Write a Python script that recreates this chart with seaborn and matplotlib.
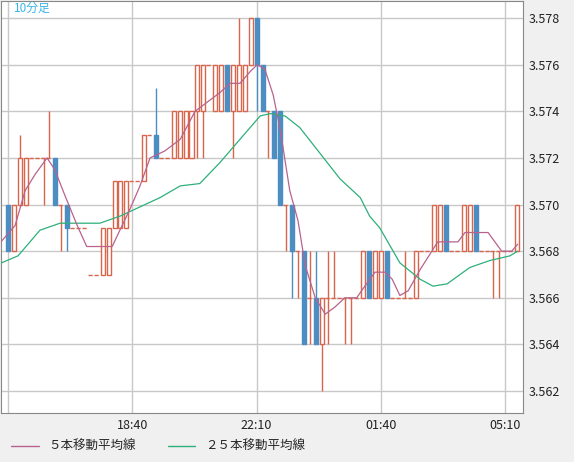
import matplotlib
matplotlib.use("Agg")
import matplotlib.pyplot as plt
from matplotlib.patches import Rectangle
from matplotlib.lines import Line2D
import seaborn as sns
import pandas as pd

sns.set_style("white")
plt.rcParams['font.family'] = ['Noto Sans CJK JP', 'DejaVu Sans']

BASE = 3.560
STEP = 0.001
opens  = [10,8,10,10,12,12,12,12,12,10,10,9,9,9,7,7,7,7,9,9,9,11,11,11,13,13,12,12,12,12,12,12,14,14,16,14,14,16,14,14,14,16,18,16,14,14,14,10,10,8,8,6,6,4,6,6,6,6,6,6,6,8,6,6,8,6,6,6,6,6,8,8,8,8,10,8,8,8,8,10,8,8,8,8,8,8,8]
highs  = [10,10,13,12,12,12,12,14,12,10,10,9,9,9,7,7,9,9,11,11,11,11,11,13,13,15,12,12,14,14,14,14,16,16,16,16,16,16,16,18,16,18,18,16,14,14,14,10,10,8,8,8,8,6,8,8,6,6,6,6,8,8,8,8,8,6,6,8,6,8,8,8,10,10,10,8,8,10,10,10,8,8,8,8,8,8,10]
lows   = [8,8,10,10,12,12,10,12,10,8,8,9,9,9,7,7,7,7,9,9,9,11,11,11,13,12,12,12,12,12,12,12,12,12,16,14,14,14,12,14,14,16,14,14,12,12,10,8,6,6,4,4,4,2,4,6,6,4,4,6,6,6,6,6,6,6,6,6,6,6,8,8,8,8,8,8,8,8,8,8,8,8,6,6,8,8,8]
closes = [8,10,12,12,12,12,12,12,10,10,9,9,9,9,7,7,9,9,11,11,11,11,11,13,13,12,12,12,14,14,14,14,16,16,16,16,16,14,16,16,16,18,16,14,14,12,10,10,8,8,4,6,4,6,6,6,6,6,6,6,8,6,8,8,6,6,6,6,6,8,8,8,10,10,8,8,8,10,10,8,8,8,8,8,8,8,10]

ma5_pos = [-1.2,1.2,2.9,4.6,6.6,7.9,9.6,11.7,13.3,14.7,17.6,18.9,20.6,22.3,24.0,26.5,29.1,31.6,35.8,37.5,
           39.2,40.9,42.1,43.4,44.8,46.0,47.6,49.0,50.2,51.9,53.6,55.2,56.9,58.9,60.0,62.0,63.7,64.9,66.2,67.6,
           69.6,71.6,72.6,76.0,77.2,81.1,83.4,85.1,86.1]
ma5_val = [3.5684,3.5691,3.5706,3.5713,3.5720,3.5715,3.5704,3.5691,3.5682,3.5682,3.5682,3.5689,3.5698,3.5708,3.5720,3.5723,3.5728,3.5740,3.5748,3.5752,
           3.5752,3.5757,3.5760,3.5758,3.5747,3.5732,3.5706,3.5693,3.5674,3.5660,3.5653,3.5656,3.5660,3.5660,3.5664,3.5671,3.5671,3.5668,3.5661,3.5663,
           3.5672,3.5680,3.5684,3.5684,3.5688,3.5688,3.5680,3.5680,3.5683]
ma25_pos = [-1.1,1.7,5.4,8.8,13.0,15.5,18.9,22.3,25.7,29.1,32.4,35.8,39.2,42.6,44.3,46.8,49.3,52.7,56.1,59.5,61.1,62.8,66.2,69.6,71.8,74.2,78.0,81.4,84.8,86.1]
ma25_val = [3.5675,3.5678,3.5689,3.5692,3.5692,3.5692,3.5695,3.5699,3.5703,3.5708,3.5709,3.5718,3.5728,3.5738,3.5739,3.5738,3.5733,3.5722,3.5711,3.5703,3.5695,3.5690,3.5675,3.5668,3.5665,3.5666,3.5673,3.5676,3.5678,3.5680]

tick_pos = [21, 42, 63, 84]
tick_labels = ["18:40", "22:10", "01:40", "05:10"]
yticks = [3.562, 3.564, 3.566, 3.568, 3.570, 3.572, 3.574, 3.576, 3.578]

UP = "#d9654b"
DOWN = "#4c8dc2"
C5 = "#b9628e"
C25 = "#2db07a"

fig = plt.figure(figsize=(5.74, 4.62), dpi=100, facecolor="#f0f0f0")
ax = fig.add_axes([1/574, (462-413)/462, 522/574, 412/462])
ax.set_facecolor("white")

for i in range(len(opens)):
    o, h, l, c = [BASE + v*STEP for v in (opens[i], highs[i], lows[i], closes[i])]
    w = 0.68
    if c > o:
        ax.vlines(i, l, h, color=UP, lw=1, zorder=3)
        ax.add_patch(Rectangle((i - w/2, o), w, c - o, facecolor="white", edgecolor=UP, lw=1, zorder=4))
    elif c < o:
        ax.vlines(i, l, h, color=DOWN, lw=1, zorder=3)
        ax.add_patch(Rectangle((i - w/2, c), w, o - c, facecolor=DOWN, edgecolor=DOWN, lw=1, zorder=4))
    else:
        if h > l:
            ax.vlines(i, l, h, color=UP, lw=1, zorder=3)
        ax.hlines(o, i - 0.5, i + 0.5, color=UP, lw=1, linestyles=(0, (3, 2)), zorder=3)

df5 = pd.DataFrame({"x": ma5_pos, "y": ma5_val})
df25 = pd.DataFrame({"x": ma25_pos, "y": ma25_val})
sns.lineplot(data=df25, x="x", y="y", ax=ax, color=C25, lw=0.9, zorder=5)
sns.lineplot(data=df5, x="x", y="y", ax=ax, color=C5, lw=0.9, zorder=5)

ax.set_xlim(-1.18, 87.0)
ax.set_ylim(3.56106, 3.57873)
ax.set_xticks(tick_pos)
ax.set_xticklabels(tick_labels)
ax.set_yticks(yticks)
ax.set_yticklabels([f"{v:.3f}" for v in yticks])
ax.yaxis.tick_right()
ax.grid(True, color="#c8c8c8", lw=1)
ax.set_axisbelow(True)
ax.axvline(0, color="#c8c8c8", lw=1, zorder=0)
ax.tick_params(axis="both", length=0, labelsize=9, colors="#222222", pad=4)
ax.set_xlabel("")
ax.set_ylabel("")
for s in ax.spines.values():
    s.set_color("#888888")

ax.text(0.024, 0.997, "10分足", transform=ax.transAxes, ha="left", va="top", color="#3ab4e8", fontsize=8.5)

handles = [Line2D([0], [0], color=C5, lw=1), Line2D([0], [0], color=C25, lw=1)]
fig.legend(handles, ["５本移動平均線", "２５本移動平均線"], loc="lower left", bbox_to_anchor=(0.0, -0.005),
           ncol=2, frameon=False, fontsize=9, handlelength=2.2, columnspacing=2.5)

fig.savefig("out.png", dpi=100, facecolor=fig.get_facecolor())
